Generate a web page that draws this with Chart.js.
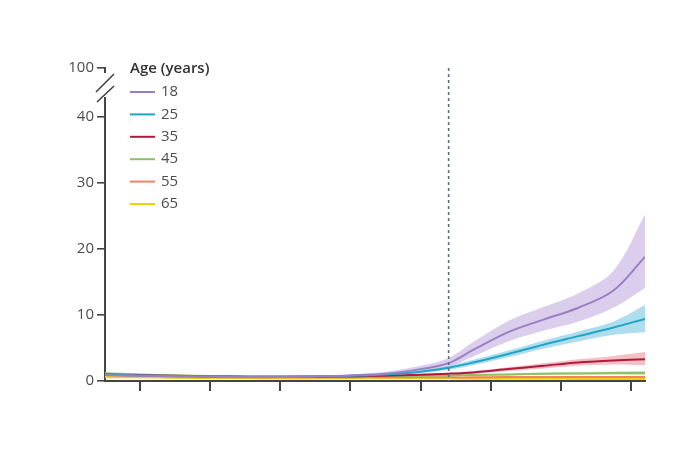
<!DOCTYPE html>
<html><head><meta charset="utf-8">
<script src="https://cdn.jsdelivr.net/npm/chart.js@4.4.0/dist/chart.umd.min.js"></script>
<style>html,body{margin:0;padding:0;background:#fff}#wrap{width:700px;height:450px}</style>
</head><body><div id="wrap"><canvas id="c" width="700" height="450"></canvas></div>
<script>
const xs = [-0.5,0,0.5,1,1.5,2,2.5,3,3.5,4,4.4,4.75,5.25,5.75,6.25,6.75,7.2];
const xTicks = [0,1,2,3,4,5,6,7];
const yTicks = [0,10,20,30,40];
const yBreakValue = 47.4;
const yBreakLabel = "100";
const cutoffX = 4.4;
const legendTitle = "Age (years)";
const ages = ["18","25","35","45","55","65"];

const mean18 = [0.9,0.8,0.7,0.65,0.6,0.6,0.7,0.85,1.1,1.8,2.7,4.7,7.4,9.3,11.1,13.7,18.8];
const lo18   = [0.6,0.6,0.55,0.5,0.5,0.5,0.6,0.7,0.9,1.4,2.1,3.7,6.0,7.6,9.0,11.1,14.1];
const hi18   = [1.2,1.0,0.85,0.8,0.7,0.7,0.8,1.0,1.4,2.3,3.5,5.9,9.1,11.2,13.3,16.7,25.2];

const mean25 = [1.0,0.85,0.75,0.7,0.65,0.65,0.7,0.8,1.0,1.4,2.0,2.8,4.1,5.5,6.8,8.1,9.4];
const lo25   = [0.7,0.65,0.6,0.55,0.55,0.55,0.6,0.7,0.85,1.2,1.7,2.4,3.6,4.9,6.0,7.0,7.4];
const hi25   = [1.3,1.05,0.9,0.8,0.75,0.75,0.8,0.9,1.15,1.6,2.3,3.2,4.6,6.1,7.5,9.0,11.5];

const mean35 = [1.0,0.9,0.8,0.7,0.65,0.65,0.65,0.7,0.8,0.95,1.1,1.3,1.8,2.3,2.8,3.1,3.3];
const lo35   = [0.7,0.7,0.6,0.6,0.55,0.55,0.55,0.6,0.7,0.8,0.95,1.1,1.5,1.9,2.3,2.5,2.4];
const hi35   = [1.3,1.1,0.95,0.85,0.75,0.75,0.75,0.8,0.9,1.1,1.25,1.5,2.1,2.7,3.3,3.8,4.4];

const mean45 = [1.1,0.95,0.85,0.75,0.7,0.7,0.7,0.7,0.75,0.8,0.85,0.9,1.0,1.1,1.15,1.2,1.2];
const lo45   = [0.8,0.75,0.7,0.6,0.6,0.6,0.6,0.6,0.65,0.7,0.75,0.8,0.85,0.9,0.95,0.95,0.9];
const hi45   = [1.4,1.15,1.0,0.9,0.8,0.8,0.8,0.8,0.85,0.9,0.95,1.0,1.15,1.3,1.35,1.45,1.5];

const mean55 = [0.9,0.8,0.7,0.6,0.55,0.55,0.55,0.55,0.55,0.55,0.55,0.55,0.6,0.6,0.6,0.6,0.6];
const lo55   = [0.6,0.6,0.55,0.5,0.45,0.45,0.45,0.45,0.45,0.45,0.45,0.45,0.5,0.5,0.5,0.5,0.45];
const hi55   = [1.2,1.0,0.85,0.7,0.65,0.65,0.65,0.65,0.65,0.65,0.65,0.65,0.7,0.7,0.72,0.75,0.78];

const mean65 = [0.6,0.55,0.5,0.45,0.45,0.4,0.4,0.4,0.4,0.4,0.4,0.35,0.35,0.35,0.3,0.3,0.3];
const lo65   = [0.4,0.4,0.38,0.35,0.35,0.32,0.32,0.32,0.32,0.32,0.3,0.28,0.27,0.26,0.22,0.22,0.2];
const hi65   = [0.8,0.7,0.62,0.55,0.55,0.48,0.48,0.48,0.48,0.48,0.5,0.42,0.43,0.44,0.38,0.4,0.42];

const lineColors = ["#9b7fc4","#1ea5c9","#b2183d","#8cc166","#f0845f","#f2cf10"];
const bandColors = ["rgba(190,165,220,0.55)","rgba(120,200,225,0.6)","rgba(235,140,150,0.55)","rgba(170,215,140,0.55)","rgba(245,170,140,0.5)","rgba(248,225,110,0.5)"];

const means = [mean18,mean25,mean35,mean45,mean55,mean65];
const los = [lo18,lo25,lo35,lo45,lo55,lo65];
const his = [hi18,hi25,hi35,hi45,hi55,hi65];
const pts = arr => arr.map((v,i)=>({x:xs[i],y:v}));

const datasets = [];
means.forEach((m,i)=>datasets.push({label:ages[i],data:pts(m),borderColor:lineColors[i],borderWidth:2,pointRadius:0,fill:false,tension:0.35}));
for (let i = means.length-1; i >= 0; i--) {
  const idx = datasets.length;
  datasets.push({label:'lo'+ages[i],data:pts(los[i]),borderWidth:0,pointRadius:0,fill:false,tension:0.35,borderColor:'transparent'});
  datasets.push({label:'hi'+ages[i],data:pts(his[i]),borderWidth:0,pointRadius:0,fill:{target:idx},backgroundColor:bandColors[i],tension:0.35,borderColor:'transparent'});
}

const axisColor = '#444';
const textColor = '#4d4d4d';
const fontFam = "'Open Sans', 'Noto Sans', sans-serif";

const decor = {
  id:'decor',
  afterDraw(chart){
    const ctx = chart.ctx, ca = chart.chartArea, xs_ = chart.scales.x;
    ctx.save();
    const cx = xs_.getPixelForValue(cutoffX);
    ctx.strokeStyle = '#557285'; ctx.lineWidth = 1.6; ctx.setLineDash([3,3]);
    ctx.beginPath(); ctx.moveTo(cx, ca.top); ctx.lineTo(cx, ca.bottom); ctx.stroke();
    ctx.setLineDash([]);
    const ax = ca.left;
    ctx.fillStyle = '#fff';
    ctx.fillRect(ax-3, ca.top+5, 6, 24);
    ctx.strokeStyle = axisColor; ctx.lineWidth = 1.6;
    ctx.beginPath();
    ctx.moveTo(ax-9, ca.top+24); ctx.lineTo(ax+9, ca.top+6);
    ctx.moveTo(ax-8, ca.top+34); ctx.lineTo(ax+9, ca.top+18);
    ctx.stroke();
    ctx.fillStyle = '#333';
    ctx.font = "600 15px " + fontFam;
    ctx.textBaseline = 'middle'; ctx.textAlign = 'left';
    ctx.fillText(legendTitle, 130, 69);
    ctx.font = "15px " + fontFam;
    ages.forEach((a,i)=>{
      const y = 92 + i*22.4;
      ctx.strokeStyle = lineColors[i]; ctx.lineWidth = 2;
      ctx.beginPath(); ctx.moveTo(130,y); ctx.lineTo(155,y); ctx.stroke();
      ctx.fillStyle = textColor;
      ctx.fillText(a, 161, y);
    });
    ctx.restore();
  }
};

new Chart(document.getElementById('c'), {
  type:'line',
  data:{datasets},
  options:{
    responsive:false, animation:false,
    layout:{padding:{top:68,right:55,left:0,bottom:0}},
    plugins:{legend:{display:false},tooltip:{enabled:false}},
    scales:{
      x:{type:'linear',min:-0.5,max:7.2,
        afterBuildTicks(s){ s.ticks = xTicks.map(v=>({value:v})); },
        afterFit(s){ s.height = 69; },
        grid:{drawOnChartArea:false,drawTicks:true,tickLength:10,color:axisColor,lineWidth:2},
        border:{display:true,color:axisColor,width:2},
        ticks:{display:true,callback:()=> '' }
      },
      y:{type:'linear',min:0,max:yBreakValue,
        afterBuildTicks(s){ s.ticks = yTicks.concat([yBreakValue]).map(v=>({value:v})); },
        afterFit(s){ s.width = 105; },
        grid:{drawOnChartArea:false,drawTicks:true,tickLength:8,color:axisColor,lineWidth:1.6},
        border:{display:true,color:axisColor,width:2},
        ticks:{color:textColor,font:{family:fontFam,size:15},padding:3,
          callback:(v)=> v===yBreakValue ? yBreakLabel : String(v)}
      }
    }
  },
  plugins:[decor]
});
</script></body></html>
